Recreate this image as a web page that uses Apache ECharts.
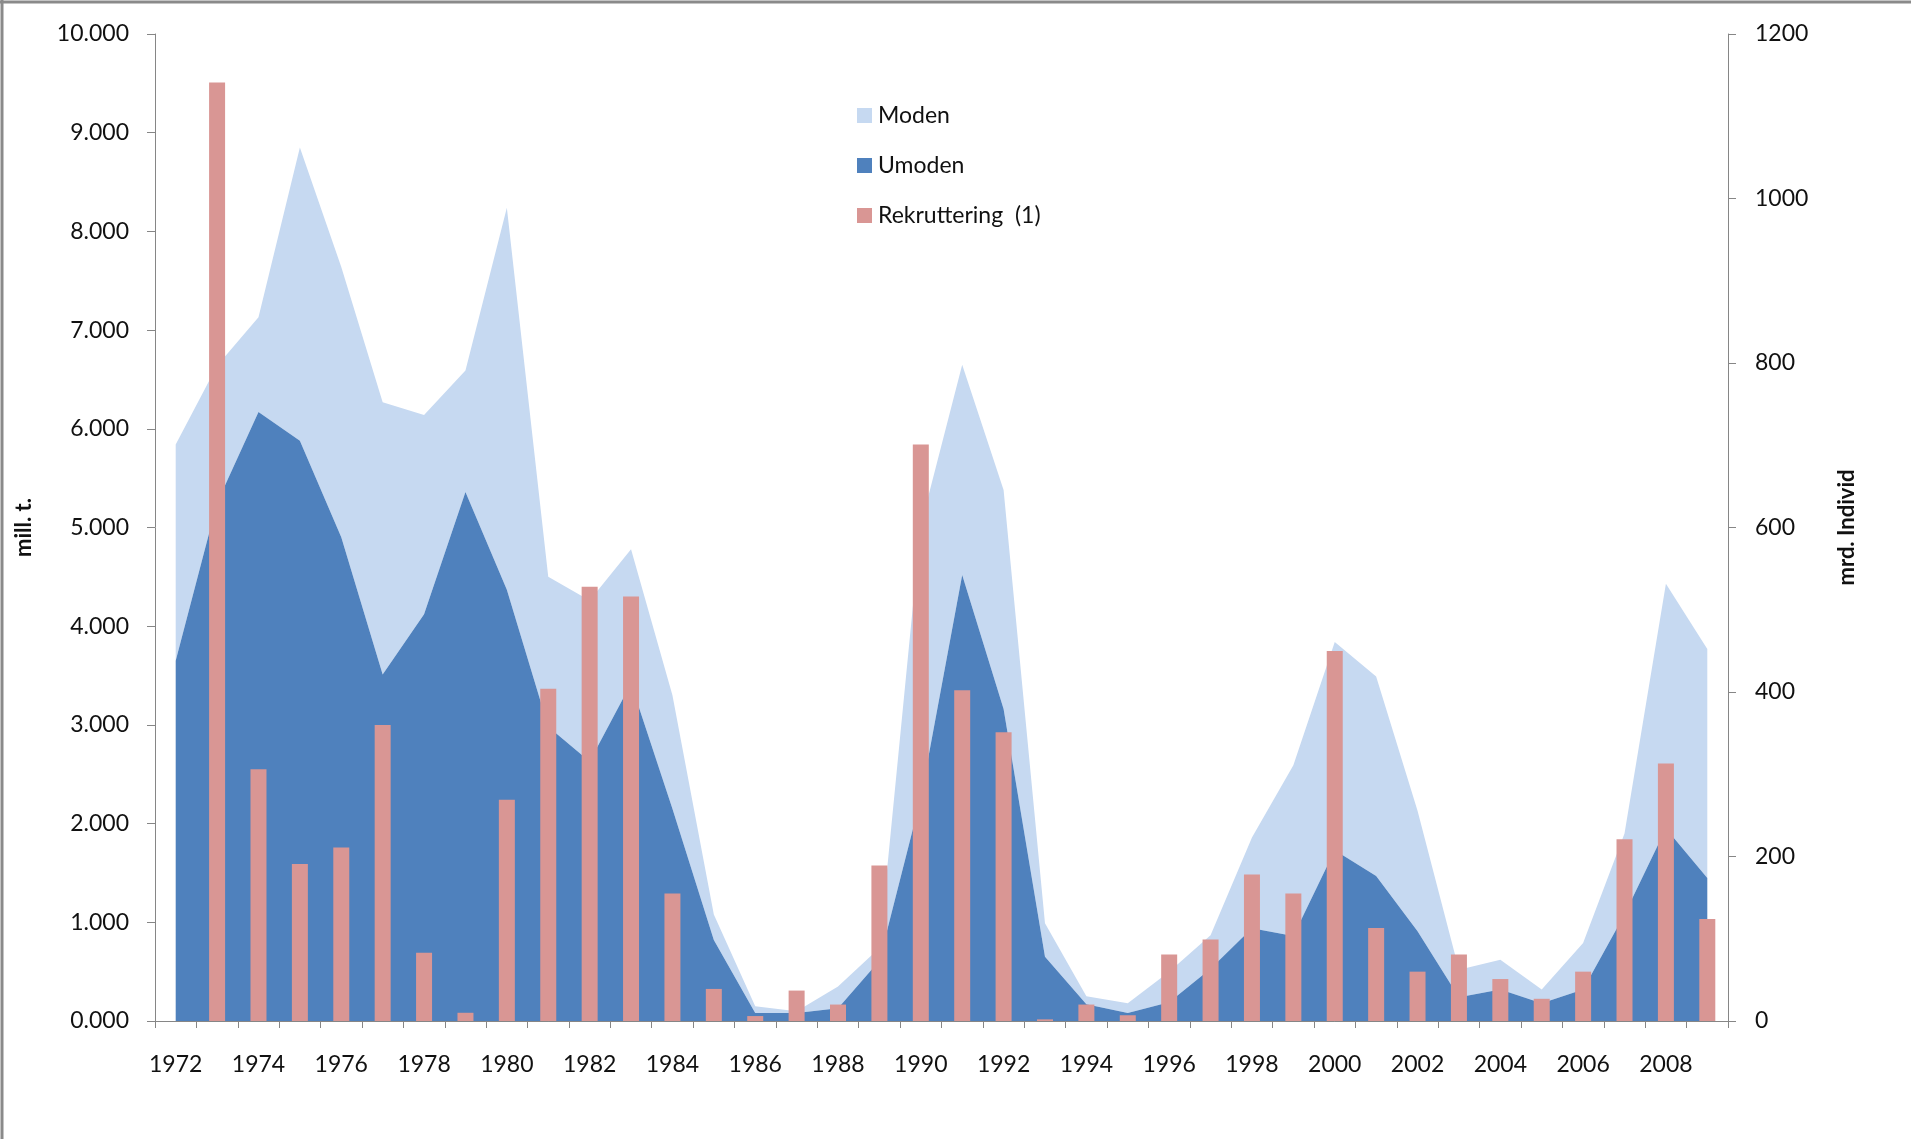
<!DOCTYPE html>
<html>
<head>
<meta charset="utf-8">
<script src="https://cdn.jsdelivr.net/npm/echarts@6/dist/echarts.min.js"></script>
<style>
  html, body { margin: 0; padding: 0; background: #fff; }
  #chart { width: 1911px; height: 1139px; }
</style>
</head>
<body>
<div id="chart"></div>
<script>
// Categories (years)
const years = ['1972','1973','1974','1975','1976','1977','1978','1979','1980','1981',
  '1982','1983','1984','1985','1986','1987','1988','1989','1990','1991',
  '1992','1993','1994','1995','1996','1997','1998','1999','2000','2001',
  '2002','2003','2004','2005','2006','2007','2008','2009'];

// Umoden (immature) biomass, left axis (bottom of the stack)
const umoden = [3.65, 5.25, 6.17, 5.88, 4.90, 3.51, 4.12, 5.36, 4.37, 2.98,
  2.63, 3.42, 2.15, 0.82, 0.08, 0.08, 0.13, 0.61, 2.26, 4.52,
  3.16, 0.65, 0.17, 0.08, 0.19, 0.53, 0.94, 0.86, 1.73, 1.47,
  0.91, 0.24, 0.32, 0.18, 0.32, 1.08, 1.95, 1.45];

// Moden (mature) biomass, left axis (stacked on top of Umoden)
const moden = [2.19, 1.39, 0.96, 2.97, 2.74, 2.76, 2.02, 1.23, 3.87, 1.52,
  1.63, 1.36, 1.15, 0.26, 0.07, 0.02, 0.22, 0.13, 2.76, 2.13,
  2.22, 0.34, 0.08, 0.10, 0.31, 0.34, 0.92, 1.73, 2.11, 2.02,
  1.22, 0.28, 0.30, 0.14, 0.47, 0.82, 2.48, 2.32];

// Rekruttering (1), right axis (mrd. individ)
const rekruttering = [null, 1141, 306, 191, 211, 360, 83, 10, 269, 404,
  528, 516, 155, 39, 6, 37, 20, 189, 701, 402,
  351, 2, 20, 7, 81, 99, 178, 155, 450, 113,
  60, 81, 51, 27, 60, 221, 313, 124];

const FONT = 'Lato';
const AXIS_COLOR = '#868686';
const TEXT_COLOR = '#111111';

const chart = echarts.init(document.getElementById('chart'), null, { renderer: 'canvas' });

chart.setOption({
  backgroundColor: '#ffffff',
  animation: false,
  textStyle: { fontFamily: FONT },
  grid: { left: 155, right: 183, top: 34, bottom: 118, containLabel: false },
  legend: {
    orient: 'vertical',
    left: 852,
    top: 99,
    icon: 'rect',
    itemWidth: 15,
    itemHeight: 15,
    itemGap: 27,
    data: ['Moden', 'Umoden', 'Rekruttering  (1)'],
    textStyle: { fontFamily: FONT, fontSize: 23, color: TEXT_COLOR, padding: [0, 0, 0, 1] }
  },
  xAxis: {
    type: 'category',
    data: years,
    boundaryGap: true,
    axisLine: { show: true, lineStyle: { color: AXIS_COLOR, width: 1 } },
    axisTick: { show: true, interval: 0, length: 7, alignWithLabel: false, lineStyle: { color: AXIS_COLOR } },
    axisLabel: { interval: 1, margin: 32, fontFamily: FONT, fontSize: 23, color: TEXT_COLOR },
    splitLine: { show: false }
  },
  yAxis: [
    {
      type: 'value',
      position: 'left',
      min: 0, max: 10, interval: 1,
      name: 'mill. t.',
      nameLocation: 'middle',
      nameRotate: 90,
      nameGap: 120,
      nameTextStyle: { fontFamily: FONT, fontSize: 22, fontWeight: 'bold', color: TEXT_COLOR },
      axisLine: { show: true, lineStyle: { color: AXIS_COLOR, width: 1 } },
      axisTick: { show: true, length: 8, lineStyle: { color: AXIS_COLOR } },
      axisLabel: { margin: 26, fontFamily: FONT, fontSize: 23, color: TEXT_COLOR,
        formatter: v => v.toFixed(3) },
      splitLine: { show: false }
    },
    {
      type: 'value',
      position: 'right',
      min: 0, max: 1200, interval: 200,
      name: 'mrd. Individ',
      nameLocation: 'middle',
      nameRotate: 90,
      nameGap: 108,
      nameTextStyle: { fontFamily: FONT, fontSize: 22, fontWeight: 'bold', color: TEXT_COLOR },
      axisLine: { show: true, lineStyle: { color: AXIS_COLOR, width: 1 } },
      axisTick: { show: true, length: 8, lineStyle: { color: AXIS_COLOR } },
      axisLabel: { margin: 27, fontFamily: FONT, fontSize: 23, color: TEXT_COLOR,
        formatter: v => String(v) },
      splitLine: { show: false }
    }
  ],
  series: [
    {
      name: 'Umoden',
      type: 'line',
      yAxisIndex: 0,
      stack: 'biomasse',
      data: umoden,
      symbol: 'none',
      showSymbol: false,
      smooth: false,
      lineStyle: { width: 0, color: '#4F81BD' },
      itemStyle: { color: '#4F81BD' },
      areaStyle: { color: '#4F81BD', opacity: 1 },
      z: 2
    },
    {
      name: 'Moden',
      type: 'line',
      yAxisIndex: 0,
      stack: 'biomasse',
      data: moden,
      symbol: 'none',
      showSymbol: false,
      smooth: false,
      lineStyle: { width: 0, color: '#C6D9F1' },
      itemStyle: { color: '#C6D9F1' },
      areaStyle: { color: '#C6D9F1', opacity: 1 },
      z: 1
    },
    {
      name: 'Rekruttering  (1)',
      type: 'bar',
      yAxisIndex: 1,
      data: rekruttering,
      barWidth: 16,
      itemStyle: { color: '#D99694' },
      z: 3
    }
  ],
  graphic: [
    { type: 'line', shape: { x1: 0, y1: 2, x2: 1911, y2: 2 }, style: { stroke: '#8a8a8a', lineWidth: 3 }, silent: true },
    { type: 'line', shape: { x1: 2, y1: 0, x2: 2, y2: 1139 }, style: { stroke: '#8a8a8a', lineWidth: 3 }, silent: true }
  ]
});
</script>
</body>
</html>
